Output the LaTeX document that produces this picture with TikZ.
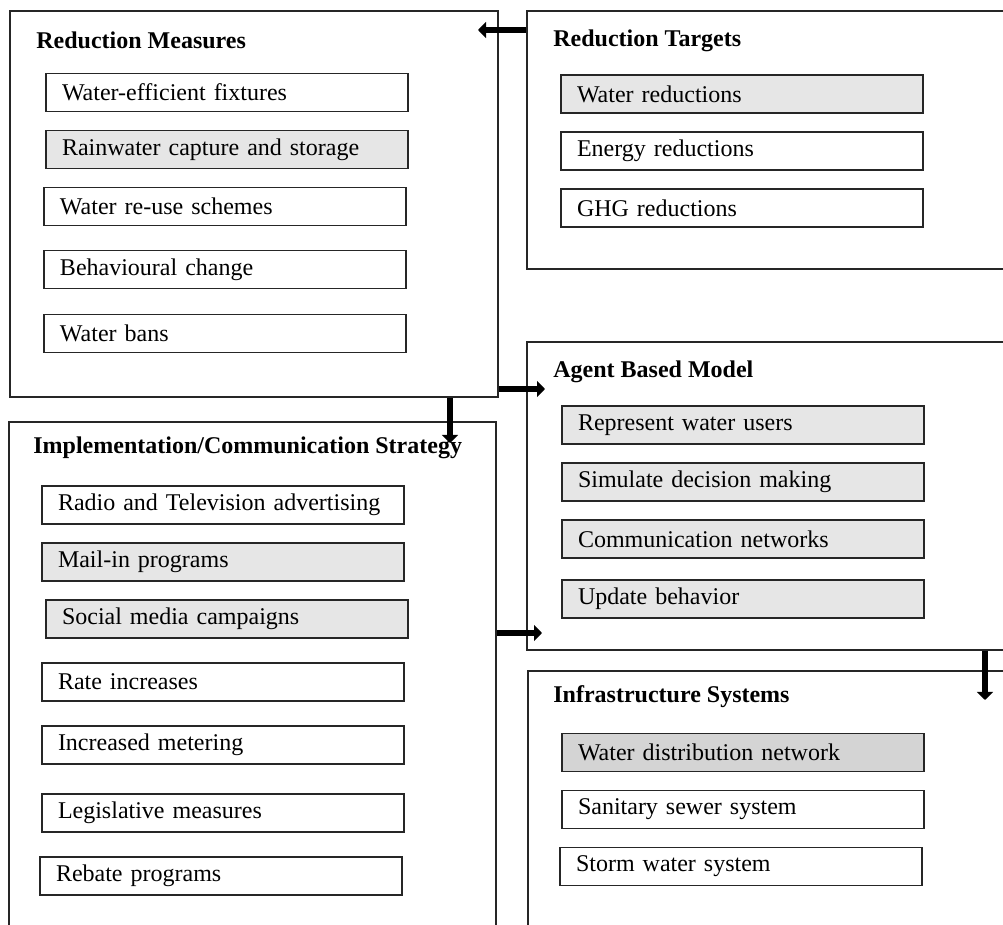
\documentclass[tikz,border=0pt]{standalone}
\usepackage{fontspec}
\setmainfont{Liberation Serif}
\usetikzlibrary{arrows.meta, positioning}
\definecolor{boxgray}{HTML}{E6E6E6}
\definecolor{boxdark}{HTML}{D4D4D4}
\tikzstyle{frame} = [rectangle, draw=black!85, line width=0.75pt, inner sep=0pt]
\tikzstyle{title} = [anchor=base west, inner sep=0pt, font=\fontsize{12pt}{14pt}\selectfont\bfseries]
\tikzstyle{item} = [rectangle, draw=black!85, line width=0.8pt, text width=165pt, inner xsep=8pt, inner ysep=0pt, minimum height=19pt, align=left, font=\fontsize{12pt}{14pt}\selectfont]
\tikzstyle{shaded} = [item, fill=boxgray]
\tikzstyle{arrow} = [line width=3pt, -{Triangle[length=4pt, width=8pt]}]

\begin{document}
\begin{tikzpicture}[x=0.5pt, y=-0.5pt, node distance=28.5pt]
\useasboundingbox (0,0) rectangle (1003,925);
\clip (0,0) rectangle (1003,925);
\fill [white] (0,0) rectangle (1003,925);

\node (rm) [frame, minimum width=244pt, minimum height=193pt] at (254,204) {};

\node (rt) [frame, minimum width=243pt, minimum height=129pt] at (770,140) {};

\node (abm) [frame, minimum width=243pt, minimum height=154pt] at (770,496) {};

\node (ic) [frame, minimum width=243.5pt, minimum height=259.5pt] at (252.5,681.5) {};

\node (is) [frame, minimum width=242.5pt, minimum height=135pt] at (770.5,806) {};

\node (rm0) [title] at (36,49) {Reduction Measures};

\node (rt0) [title] at (553,47) {Reduction Targets};

\node (abm0) [title] at (553,378) {Agent Based Model};

\node (ic0) [title] at (33,454) {Implementation/Communication Strategy};

\node (is0) [title] at (553,703) {Infrastructure Systems};

\node (rm1) [item] at (227,92.5) {Water-efficient fixtures};

\node (rm2) [shaded, below of=rm1] {Rainwater capture and storage};

\node (rm3) [item, below of=rm2, xshift=-1pt] {Water re-use schemes};

\node (rm4) [item, below of=rm3, yshift=-3pt] {Behavioural change};

\node (rm5) [item, below of=rm4, yshift=-3.5pt] {Water bans};

\node (rt1) [shaded] at (742,94) {Water reductions};

\node (rt2) [item, below of=rt1] {Energy reductions};

\node (rt3) [item, below of=rt2] {GHG reductions};

\node (abm1) [shaded] at (743,425) {Represent water users};

\node (abm2) [shaded, below of=abm1] {Simulate decision making};

\node (abm3) [shaded, below of=abm2] {Communication networks};

\node (abm4) [shaded, below of=abm3, yshift=-1.5pt] {Update behavior};

\node (ic1) [item] at (223,505) {Radio and Television advertising};

\node (ic2) [shaded, below of=ic1] {Mail-in programs};

\node (ic3) [shaded, below of=ic2, xshift=2pt] {Social media campaigns};

\node (ic4) [item, below of=ic3, xshift=-2pt, yshift=-3pt] {Rate increases};

\node (ic5) [item, below of=ic4, yshift=-3pt] {Increased metering};

\node (ic6) [item, below of=ic5, yshift=-5.5pt] {Legislative measures};

\node (ic7) [item, below of=ic6, xshift=-1pt, yshift=-3pt] {Rebate programs};

\node (is1) [item, fill=boxdark] at (743,752.5) {Water distribution network};

\node (is2) [item, below of=is1] {Sanitary sewer system};

\node (is3) [item, below of=is2, xshift=-1pt] {Storm water system};

\coordinate (rmin) at (478,30);
\coordinate (icin) at (450,443);
\coordinate (abmin) at (545,389);
\coordinate (abmlow) at (542,633);
\coordinate (isin) at (985,700);

\draw [arrow] (rt.west |- rmin) -- (rmin);

\draw [arrow] (rm.south -| icin) -- (icin);

\draw [arrow] (rm.east |- abmin) -- (abmin);

\draw [arrow] (ic.east |- abmlow) -- (abmlow);

\draw [arrow] (abm.south -| isin) -- (isin);

\end{tikzpicture}
\end{document}
